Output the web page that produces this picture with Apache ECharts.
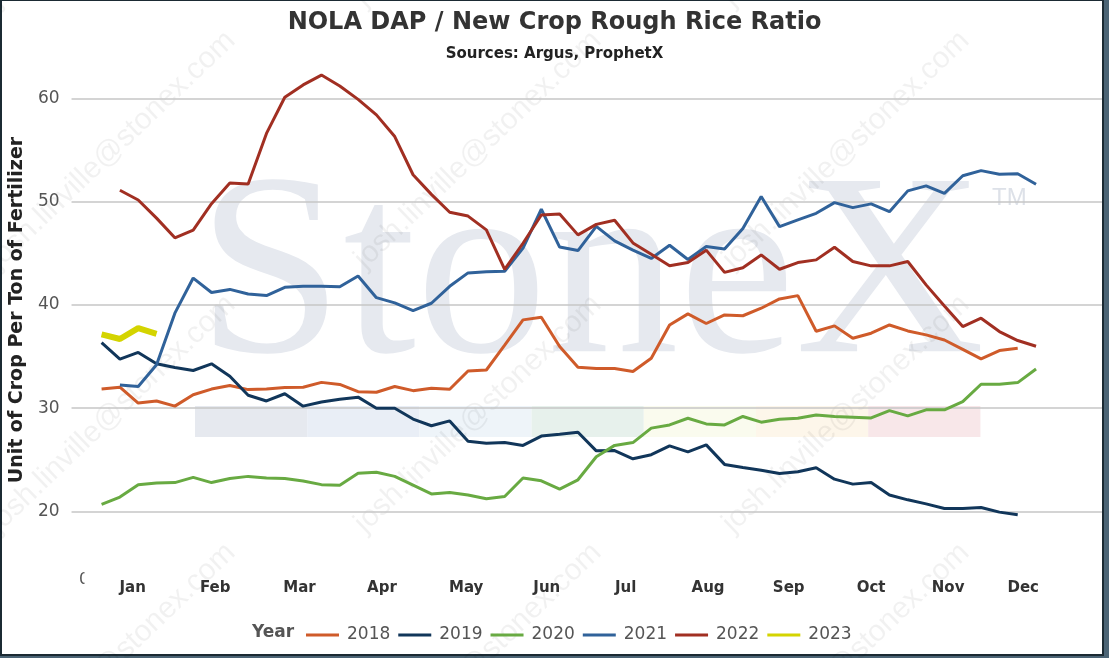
<!DOCTYPE html>
<html>
<head>
<meta charset="utf-8">
<title>NOLA DAP / New Crop Rough Rice Ratio</title>
<script src="https://cdn.jsdelivr.net/npm/echarts@6/dist/echarts.min.js"></script>
<style>
  html, body { margin: 0; padding: 0; background: #4b6475; }
  #chart { width: 1109px; height: 658px; }
</style>
</head>
<body>
<div id="chart"></div>
<script>
// weekly ratio, index = week of the year (0 = first week of Jan)
const years = ['2018', '2019', '2020', '2021', '2022', '2023'];
const colors = ['#cf5b2a', '#11365a', '#68aa42', '#30629a', '#a12f22', '#d4d400'];

const r2018 = [31.87, 32.03, 30.5, 30.7, 30.2, 31.3, 31.85, 32.2, 31.8, 31.85, 32.0, 32.03, 32.5, 32.3,
  31.6, 31.55, 32.1, 31.7, 31.93, 31.83, 33.6, 33.7, 36.1, 38.55, 38.8, 35.97, 33.97, 33.84, 33.84,
  33.55, 34.84, 38.06, 39.13, 38.2, 39.03, 38.95, 39.68, 40.58, 40.9, 37.45, 37.97, 36.77, 37.26,
  38.06, 37.48, 37.1, 36.6, 35.7, 34.77, 35.58, 35.8];
const r2019 = [36.35, 34.75, 35.4, 34.3, 33.95, 33.65, 34.3, 33.1, 31.25, 30.7, 31.4, 30.2, 30.6, 30.87,
  31.07, 30.0, 30.0, 28.95, 28.3, 28.77, 26.8, 26.6, 26.67, 26.4, 27.3, 27.48, 27.67, 25.87, 25.9,
  25.1, 25.5, 26.35, 25.77, 26.45, 24.56, 24.25, 24.0, 23.68, 23.84, 24.23, 23.13, 22.65, 22.8,
  21.6, 21.13, 20.74, 20.29, 20.29, 20.39, 19.94, 19.68];
const r2020 = [20.7, 21.4, 22.6, 22.75, 22.8, 23.3, 22.8, 23.2, 23.4, 23.25, 23.2, 22.95, 22.6, 22.55,
  23.7, 23.8, 23.4, 22.55, 21.7, 21.85, 21.6, 21.23, 21.45, 23.25, 22.97, 22.17, 23.07, 25.3, 26.4,
  26.67, 28.07, 28.38, 29.03, 28.48, 28.38, 29.2, 28.65, 28.94, 29.03, 29.35, 29.2, 29.13, 29.06,
  29.77, 29.26, 29.84, 29.84, 30.64, 32.32, 32.32, 32.48, 33.8];
const r2021 = [null, 32.25, 32.1, 34.2, 39.2, 42.6, 41.2, 41.5, 41.05, 40.9, 41.7, 41.8, 41.8, 41.75,
  42.8, 40.7, 40.2, 39.45, 40.16, 41.8, 43.1, 43.2, 43.26, 45.5, 49.26, 45.6, 45.26, 47.6, 46.2,
  45.3, 44.5, 45.78, 44.4, 45.65, 45.42, 47.4, 50.5, 47.58, 48.23, 48.87, 49.9, 49.42, 49.78,
  49.03, 51.04, 51.52, 50.8, 52.5, 53.0, 52.65, 52.7, 51.68];
const r2022 = [null, 51.1, 50.16, 48.4, 46.5, 47.25, 49.8, 51.8, 51.7, 56.6, 60.1, 61.3, 62.25, 61.2,
  59.9, 58.4, 56.3, 52.6, 50.7, 48.97, 48.6, 47.26, 43.45, 45.97, 48.7, 48.8, 46.78, 47.8, 48.2,
  46.0, 44.9, 43.8, 44.1, 45.3, 43.15, 43.6, 44.84, 43.45, 44.1, 44.36, 45.58, 44.2, 43.78,
  43.78, 44.2, 41.94, 39.9, 37.9, 38.71, 37.42, 36.55, 36.0];
const r2023 = [37.15, 36.7, 37.75, 37.2];

const monthTicks = [1.7, 6.2, 10.8, 15.3, 19.9, 24.3, 28.6, 33.1, 37.5, 42.0, 46.2, 50.3];
const monthLabels = ['Jan', 'Feb', 'Mar', 'Apr', 'May', 'Jun', 'Jul', 'Aug', 'Sep', 'Oct', 'Nov', 'Dec'];
const yTicks = [20, 30, 40, 50, 60];

const allSeries = [r2018, r2019, r2020, r2021, r2022, r2023];

// faint watermark pieces
const bandColors = ['#e6e9ef', '#e9eef6', '#eef4f9', '#e7f1ec', '#fafbee', '#fdf6ea', '#f8e7e9'];
const mailCols = [112, 478, 846];
const mailRows = [-112, 150, 414, 662];

const chart = echarts.init(document.getElementById('chart'), null, { renderer: 'canvas' });

const graphics = [
  {
    type: 'rect', z: -20, silent: true,
    shape: { x: 1, y: 0, width: 1102, height: 655 },
    style: { fill: '#ffffff', stroke: '#1b2a33', lineWidth: 2 }
  },
  {
    type: 'text', z: -10, silent: true, x: 197, y: 153, scaleX: 1.01,
    style: {
      text: 'StoneX', fill: '#e6e9ef',
      font: '260px "Liberation Serif", serif'
    }
  },
  {
    type: 'text', z: -10, silent: true, left: 992, top: 186,
    style: { text: 'TM', fill: '#dde1e8', font: '24px "Liberation Sans", sans-serif' }
  },
  {
    type: 'text', z: -1, silent: true, left: 79, top: 572,
    style: { text: '0', fill: '#555555', font: '16px "DejaVu Sans", sans-serif' }
  },
  {
    type: 'rect', z: -0.5, silent: true,
    shape: { x: 84.5, y: 568, width: 10, height: 22 },
    style: { fill: '#ffffff' }
  },
  {
    type: 'text', z: 5, silent: true, left: 252, top: 624,
    style: {
      text: 'Year', fill: '#555555',
      font: 'bold 17px "DejaVu Sans", sans-serif'
    }
  }
];

bandColors.forEach((c, i) => {
  graphics.push({
    type: 'rect', z: -9, silent: true,
    shape: { x: 195 + i * 112.2, y: 406, width: 112.2, height: 31 },
    style: { fill: c }
  });
});

mailRows.forEach((y) => {
  mailCols.forEach((x) => {
    graphics.push({
      type: 'text', z: -8, silent: true,
      x: x, y: y, rotation: Math.PI * 0.243,
      style: {
        text: 'josh.linville@stonex.com', fill: 'rgba(0,0,0,0.055)',
        font: '30px "Liberation Sans", sans-serif',
        align: 'center', verticalAlign: 'middle'
      }
    });
  });
});

const option = {
  animation: false,
  backgroundColor: '#4b6475',
  title: [
    {
      text: 'NOLA DAP / New Crop Rough Rice Ratio',
      left: 'center',
      top: 4,
      textStyle: {
        fontFamily: 'DejaVu Sans',
        fontWeight: 'bold',
        fontSize: 24,
        lineHeight: 28,
        color: '#333333'
      }
    },
    {
      text: 'Sources: Argus, ProphetX',
      left: 'center',
      top: 40,
      textStyle: {
        fontFamily: 'DejaVu Sans',
        fontWeight: 'bold',
        fontSize: 15,
        lineHeight: 18,
        color: '#222222'
      }
    }
  ],
  legend: {
    data: years,
    left: 306,
    top: 625,
    padding: 0,
    icon: 'rect',
    itemWidth: 33,
    itemHeight: 3,
    itemGap: 8,
    textStyle: {
      fontFamily: 'DejaVu Sans',
      fontSize: 17,
      lineHeight: 20,
      color: '#555555',
      padding: [0, 0, 0, 3]
    }
  },
  grid: {
    left: 71,
    right: 7,
    top: 57,
    bottom: 94.85,
    containLabel: false
  },
  xAxis: {
    type: 'value',
    min: -1.64,
    max: 54.6,
    axisLine: { show: false },
    axisTick: { show: false, customValues: monthTicks },
    splitLine: { show: false },
    axisLabel: {
      customValues: monthTicks,
      margin: 17,
      fontFamily: 'DejaVu Sans',
      fontWeight: 'bold',
      fontSize: 15,
      color: '#333333',
      formatter: (v) => {
        const k = monthTicks.findIndex((t) => Math.abs(t - v) < 1e-6);
        return k >= 0 ? monthLabels[k] : '';
      }
    }
  },
  yAxis: {
    type: 'value',
    min: 15,
    max: 64,
    name: 'Unit of Crop Per Ton of Fertilizer',
    nameLocation: 'middle',
    nameGap: 44,
    nameTextStyle: {
      fontFamily: 'DejaVu Sans',
      fontWeight: 'bold',
      fontSize: 19,
      color: '#222222'
    },
    axisLine: { show: false },
    axisTick: { show: false, customValues: yTicks },
    axisLabel: {
      customValues: yTicks,
      margin: 12,
      fontFamily: 'DejaVu Sans',
      fontSize: 17,
      color: '#555555'
    },
    splitLine: {
      show: true,
      lineStyle: { color: '#c6c6c6', width: 1.5 }
    }
  },
  graphic: graphics,
  series: years.map((y, k) => ({
    name: y,
    type: 'line',
    data: allSeries[k].map((v, i) => [i, v]),
    symbol: 'none',
    connectNulls: false,
    color: colors[k],
    lineStyle: { width: k === 5 ? 6 : 3, color: colors[k] },
    emphasis: { disabled: true }
  }))
};

chart.setOption(option);
</script>
</body>
</html>
